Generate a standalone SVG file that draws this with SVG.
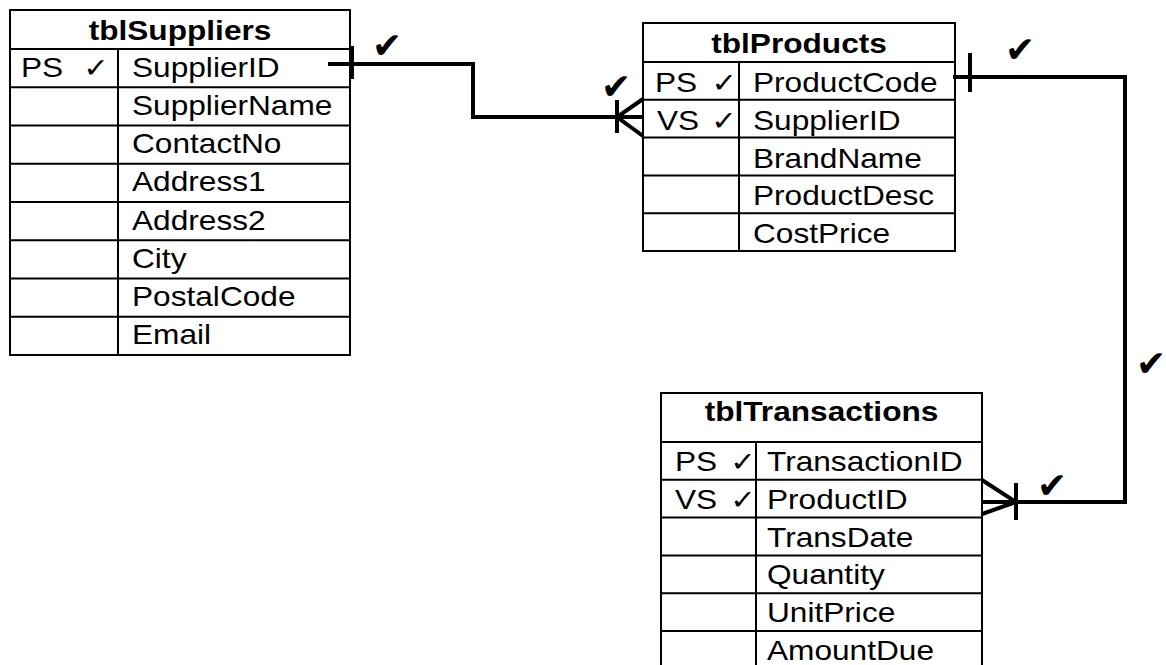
<svg xmlns="http://www.w3.org/2000/svg" width="1166" height="665" viewBox="0 0 1166 665">
<style>
.bg{fill:#fff}
.tbl{fill:none;stroke:#000;stroke-width:2}
.ln{stroke:#000;stroke-width:2;fill:none}
.t{font-family:"Liberation Sans",Arial,sans-serif;font-size:28px;fill:#000}
.h{font-family:"Liberation Sans",Arial,sans-serif;font-size:28px;font-weight:bold;fill:#000;text-anchor:middle}
.ck{font-family:"DejaVu Sans",sans-serif;font-size:27px}
.con{stroke:#000;stroke-width:4;fill:none;stroke-linejoin:miter}
.bk{font-family:"DejaVu Sans",sans-serif;font-size:36px;fill:#000}
</style>
<rect class="bg" x="0" y="0" width="1166" height="665"/>

<g id="tblSuppliers">
<rect class="tbl" x="10" y="10" width="340" height="345"/>
<path class="ln" d="M10,49H350M10,87.25H350M10,125.5H350M10,163.75H350M10,202H350M10,240.25H350M10,278.5H350M10,316.75H350M118,49V355"/>
<text class="h" transform="translate(180,39.5) scale(1.13,1)">tblSuppliers</text>
<text class="t" transform="translate(21,76.5) scale(1.13,1)">PS <tspan class="ck" x="55">✓</tspan></text>
<text class="t" transform="translate(132,76.5) scale(1.13,1)">SupplierID</text>
<text class="t" transform="translate(132,114.75) scale(1.13,1)">SupplierName</text>
<text class="t" transform="translate(132,153) scale(1.13,1)">ContactNo</text>
<text class="t" transform="translate(132,191.25) scale(1.13,1)">Address1</text>
<text class="t" transform="translate(132,229.5) scale(1.13,1)">Address2</text>
<text class="t" transform="translate(132,267.75) scale(1.13,1)">City</text>
<text class="t" transform="translate(132,306) scale(1.13,1)">PostalCode</text>
<text class="t" transform="translate(132,344.25) scale(1.13,1)">Email</text>
</g>

<g id="tblProducts">
<rect class="tbl" x="643" y="23" width="312" height="228"/>
<path class="ln" d="M643,62H955M643,99.8H955M643,137.6H955M643,175.4H955M643,213.2H955M739,62V251"/>
<text class="h" transform="translate(799,53) scale(1.13,1)">tblProducts</text>
<text class="t" transform="translate(655,92) scale(1.13,1)">PS <tspan class="ck" x="50">✓</tspan></text>
<text class="t" transform="translate(657,129.8) scale(1.13,1)">VS <tspan class="ck" x="48">✓</tspan></text>
<text class="t" transform="translate(753,92) scale(1.13,1)">ProductCode</text>
<text class="t" transform="translate(753,129.8) scale(1.13,1)">SupplierID</text>
<text class="t" transform="translate(753,167.6) scale(1.13,1)">BrandName</text>
<text class="t" transform="translate(753,205.4) scale(1.13,1)">ProductDesc</text>
<text class="t" transform="translate(753,243.2) scale(1.13,1)">CostPrice</text>
</g>

<g id="tblTransactions">
<rect class="tbl" x="661" y="393" width="321" height="276"/>
<path class="ln" d="M661,442H982M661,479.8H982M661,517.6H982M661,555.4H982M661,593.2H982M661,631H982M756,442V669"/>
<text class="h" transform="translate(821.5,421) scale(1.13,1)">tblTransactions</text>
<text class="t" transform="translate(675,471) scale(1.13,1)">PS <tspan class="ck" x="49">✓</tspan></text>
<text class="t" transform="translate(675,508.8) scale(1.13,1)">VS <tspan class="ck" x="49">✓</tspan></text>
<text class="t" transform="translate(767,471) scale(1.13,1)">TransactionID</text>
<text class="t" transform="translate(767,508.8) scale(1.13,1)">ProductID</text>
<text class="t" transform="translate(767,546.6) scale(1.13,1)">TransDate</text>
<text class="t" transform="translate(767,584.4) scale(1.13,1)">Quantity</text>
<text class="t" transform="translate(767,622.2) scale(1.13,1)">UnitPrice</text>
<text class="t" transform="translate(767,660) scale(1.13,1)">AmountDue</text>
</g>

<g id="connectors">
<path class="con" d="M328,64H473V117H643"/>
<path class="con" d="M352,46V79"/>
<path class="con" d="M617,100V133M643,99L617,117L643,136"/>
<path class="con" d="M953,77H1125V502H982"/>
<path class="con" d="M970,53V92"/>
<path class="con" d="M1016,483V520M982,480L1016,502L982,514"/>
<text class="bk" x="372" y="58">✔</text>
<text class="bk" x="601" y="99">✔</text>
<text class="bk" x="1005" y="62">✔</text>
<text class="bk" x="1136" y="376" font-size="34">✔</text>
<text class="bk" x="1037" y="498">✔</text>
</g>
</svg>
